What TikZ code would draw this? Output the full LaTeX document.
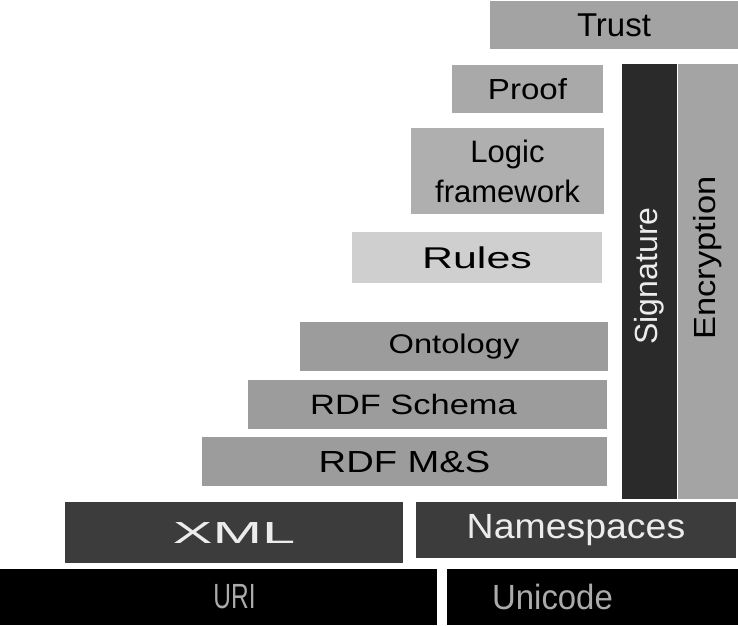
\documentclass[tikz,border=0pt]{standalone}
\usepackage{fontspec}
\setmainfont{Liberation Sans}
\usepackage{graphicx}
\usetikzlibrary{positioning}

\definecolor{trustgray}{HTML}{A3A3A3}
\definecolor{proofgray}{HTML}{A9A9A9}
\definecolor{logicgray}{HTML}{AFAFAF}
\definecolor{rulesgray}{HTML}{CFCFCF}
\definecolor{rdfgray}{HTML}{9C9C9C}
\definecolor{sigdark}{HTML}{2A2A2A}
\definecolor{encgray}{HTML}{A4A4A4}
\definecolor{xmldark}{HTML}{3C3C3C}
\definecolor{lighttext}{HTML}{ECECEC}
\definecolor{uritext}{HTML}{ABABAB}

% size, horizontal stretch, text
\newcommand{\stretchtext}[3]{\fontsize{#1}{#1}\selectfont\scalebox{#2}[1]{#3}}

\begin{document}
\begin{tikzpicture}[x=1pt,y=-1pt,
		layer/.style={anchor=north west,inner sep=0pt,outer sep=0pt,align=center,text=black},
		darklayer/.style={layer,fill=xmldark,text=lighttext},
		baselayer/.style={layer,fill=black,text=uritext,minimum height=56pt},
		sidebar/.style={anchor=center,inner sep=0pt,outer sep=0pt,rotate=90,minimum width=435pt}]
		\useasboundingbox (0,0) rectangle (738,625);
		
		\node[layer,fill=trustgray,minimum width=248pt,minimum height=48pt] (Trust) at (490,1) {\stretchtext{33}{1}{Trust}};
		\node[layer,fill=proofgray,minimum width=151pt,minimum height=48pt] (Proof) at (452,65) {\stretchtext{29}{1.14}{Proof}};
		\node[layer,fill=logicgray,minimum width=193pt,minimum height=86pt,
		font=\fontsize{31}{40}\selectfont] (Logic) at (411,128) {Logic\\framework};
		\node[layer,fill=rulesgray,minimum width=250pt,minimum height=51pt] (Rules) at (352,232) {\stretchtext{30}{1.43}{Rules}};
		
		\node[layer,fill=rdfgray,minimum width=308pt,minimum height=49pt] (Ontology) at (300,322) {\stretchtext{27}{1.21}{Ontology}};
		\node[layer,fill=rdfgray,minimum width=359pt,minimum height=49pt] (Schema) at (248,380) {\stretchtext{28}{1.23}{RDF Schema}\hspace*{28pt}};
		\node[layer,fill=rdfgray,minimum width=405pt,minimum height=49pt] (MS) at (202,437) {\stretchtext{30.5}{1.25}{RDF M\&S}};
		
		\node[sidebar,fill=sigdark,text=lighttext,minimum height=55pt] (Signature) at (649.5,281.5) {\hspace*{11pt}\stretchtext{32}{1}{Signature}};
		\node[sidebar,fill=encgray,text=black,minimum height=60pt] (Encryption) at (708,281.5) {\hspace*{47pt}\stretchtext{30.5}{1.13}{Encryption}};
		
		\node[darklayer,minimum width=338pt,minimum height=61pt] (XML) at (65,502) {\stretchtext{30.5}{1.95}{XML}};
		\node[darklayer,minimum width=320pt,minimum height=56pt] (Namespaces) at (416,502) {\stretchtext{35}{1.07}{Namespaces}};
		
		\node[baselayer,minimum width=437pt] (URI) at (0,569) {\hspace*{32pt}\stretchtext{35}{0.7}{URI}};
		\node[baselayer,minimum width=291pt] (Unicode) at (447,569) {\stretchtext{35}{0.94}{Unicode}\hspace*{80pt}};
\end{tikzpicture}
\end{document}
